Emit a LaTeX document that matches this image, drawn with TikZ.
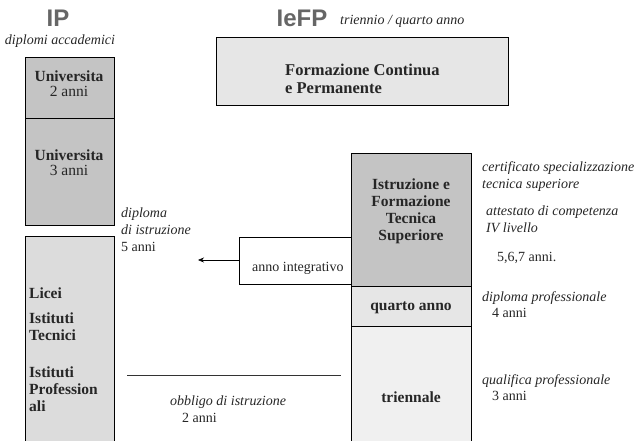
\documentclass[tikz,border=0pt]{standalone}
\usepackage{fontspec}
\setmainfont{Liberation Serif}
\setsansfont{Liberation Sans}
\usetikzlibrary{arrows.meta}
\definecolor{darkfill}{HTML}{C4C4C4}
\definecolor{midfill}{HTML}{DCDCDC}
\definecolor{lightfill}{HTML}{E6E6E6}
\definecolor{palefill}{HTML}{F0F0F0}
\begin{document}
\begin{tikzpicture}[x=1pt,y=-1pt,
  box/.style={draw=black, line width=0.8pt, inner sep=0pt, anchor=north west},
  boldlbl/.style={font=\fontsize{15.5}{17}\selectfont\bfseries, inner sep=0pt, align=center, text=black!85},
  plainlbl/.style={font=\fontsize{14}{17}\selectfont, inner sep=0pt, anchor=west, text=black!85},
  itlbl/.style={font=\fontsize{14}{17}\selectfont\itshape, inner sep=0pt, anchor=west, text=black!85},
  head/.style={font=\fontsize{24}{26}\selectfont\sffamily\bfseries, inner sep=0pt, text=black!60}]
\useasboundingbox (0,0) rectangle (637,441);
% headers
\node[head] (hIP) at (58,18) {IP};
\node[itlbl, anchor=center] (hIPsub) at (60,41) {diplomi accademici};
\node[head] (hIeFP) at (302,18) {IeFP};
\node[itlbl] (hIeFPsub) at (340,21) {triennio / quarto anno};
% left column
\node[box, fill=darkfill, minimum width=89pt, minimum height=61pt] (uni2) at (25,57) {};
\node[box, fill=darkfill, minimum width=89pt, minimum height=107pt] (uni3) at (25,118) {};
\node[box, fill=midfill, minimum width=89pt, minimum height=205pt] (scuola) at (25,236) {};
\node[boldlbl, font=\fontsize{15.5}{15}\selectfont\bfseries] (uni2t) at (69,84) {Universita\\\mdseries 2 anni};
\node[boldlbl, font=\fontsize{15.5}{15}\selectfont\bfseries] (uni3t) at (69,163) {Universita\\\mdseries 3 anni};
\node[boldlbl, anchor=west] (licei) at (29,293) {Licei};
\node[boldlbl, anchor=north west, align=left] (tecn) at (29,313) {Istituti\\Tecnici};
\node[boldlbl, anchor=north west, align=left] (prof) at (29,367) {Istituti\\Profession\\ali};
% top box
\node[box, fill=lightfill, minimum width=292pt, minimum height=68pt] (fcp) at (216,37) {};
\node[boldlbl, anchor=north west, align=left, font=\fontsize{16.5}{18}\selectfont\bfseries] (fcpt) at (285,64) {Formazione Continua\\e Permanente};
% right column
\node[box, fill=darkfill, minimum width=120pt, minimum height=133pt] (its) at (351,153) {};
\node[box, fill=lightfill, minimum width=120pt, minimum height=40pt] (quarto) at (351,286) {};
\node[box, fill=palefill, minimum width=120pt, minimum height=115pt] (trien) at (351,326) {};
\node[boldlbl, anchor=north, align=center] (itst) at (411,179) {Istruzione e\\Formazione\\Tecnica\\Superiore};
\node[boldlbl] (quartot) at (411,308) {quarto anno};
\node[boldlbl] (trient) at (411,397) {triennale};
% anno integrativo
\node[box, fill=white, minimum width=112pt, minimum height=47pt] (integr) at (239,237) {};
\node[plainlbl] (integrt) at (252,268) {anno integrativo};
\coordinate (arrEnd) at (198,260);
\draw[-{Stealth[length=6pt,width=5pt]}, line width=0.6pt] (integr.west |- arrEnd) -- (arrEnd);
% middle texts
\node[itlbl, anchor=north west, align=left] (dipl) at (121,208) {diploma\\di istruzione\\\upshape 5 anni};
\coordinate (oblA) at (127,375);
\coordinate (oblB) at (341,375);
\draw[line width=0.8pt, black!80] (oblA) -- (oblB);
\node[itlbl] (obl) at (170,402) {obbligo di istruzione};
\node[plainlbl] (obl2) at (182,418) {2 anni};
% right texts
\node[itlbl, anchor=north west, align=left] (cert) at (482,161) {certificato specializzazione\\tecnica superiore};
\node[itlbl, anchor=north west, align=left] (att) at (486,206) {attestato di competenza\\IV livello};
\node[plainlbl] (anni567) at (497,258) {5,6,7 anni.};
\node[itlbl] (dprof) at (482,298) {diploma professionale};
\node[plainlbl] (anni4) at (492,313) {4 anni};
\node[itlbl] (qprof) at (482,381) {qualifica professionale};
\node[plainlbl] (anni3) at (492,396) {3 anni};
\end{tikzpicture}
\end{document}
